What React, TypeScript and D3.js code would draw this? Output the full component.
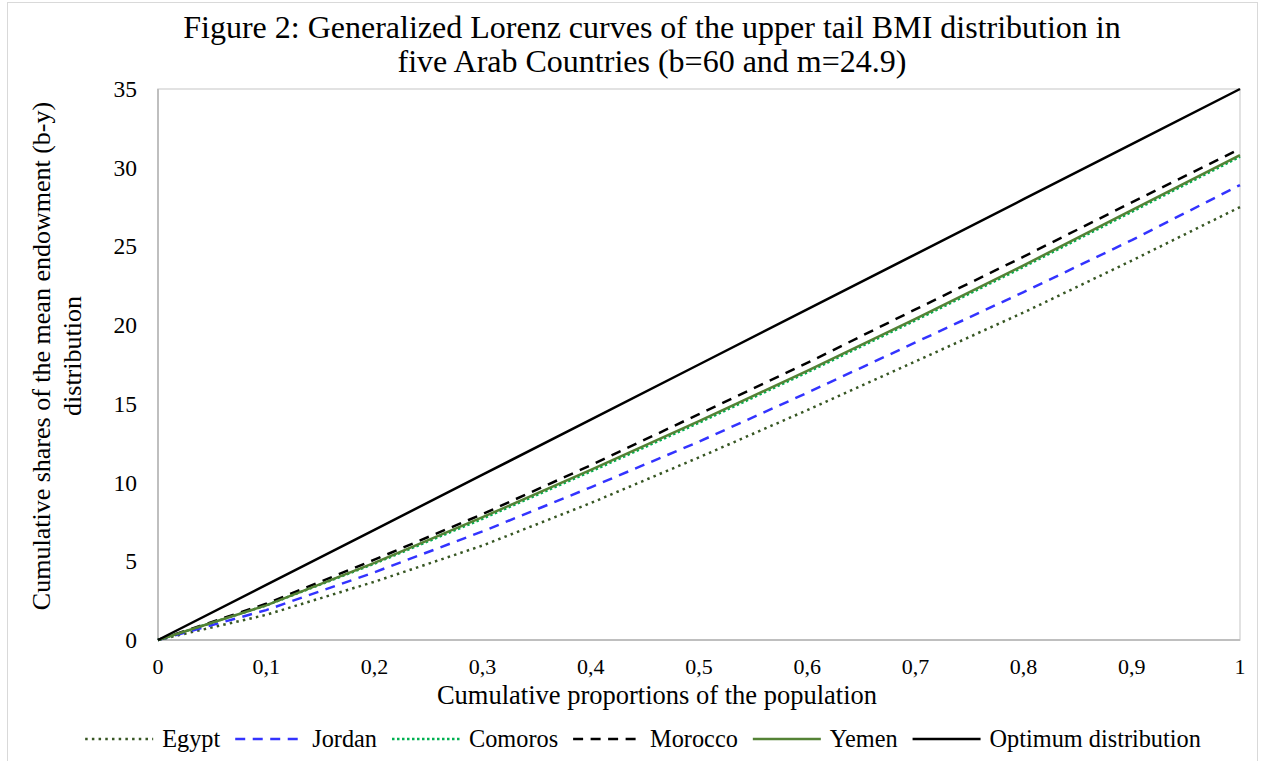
import { useEffect, useRef } from "react";
import * as d3 from "d3";

// population proportions (x) and generalized Lorenz ordinates per country
const proportions = [0, 0.1, 0.2, 0.3, 0.4, 0.5, 0.6, 0.7, 0.8, 0.9, 1];
const egypt = [0, 1.6, 3.7, 6.0, 8.7, 11.6, 14.6, 17.7, 20.8, 24.1, 27.5];
const jordan = [0, 1.9, 4.3, 6.9, 9.7, 12.6, 15.7, 18.9, 22.1, 25.4, 28.9];
const comoros = [0, 2.2, 4.85, 7.7, 10.7, 13.8, 17.0, 20.3, 23.7, 27.2, 30.7];
const morocco = [0, 2.3, 5.1, 8.0, 11.1, 14.35, 17.6, 21.0, 24.35, 27.8, 31.2];
const yemen = [0, 2.2, 4.9, 7.8, 10.8, 13.9, 17.1, 20.4, 23.8, 27.3, 30.8];
const optimum = [0, 3.5, 7, 10.5, 14, 17.5, 21, 24.5, 28, 31.5, 35];

const xTicks = [0, 0.1, 0.2, 0.3, 0.4, 0.5, 0.6, 0.7, 0.8, 0.9, 1];
const yTicks = [0, 5, 10, 15, 20, 25, 30, 35];

const titleLines = [
  "Figure 2: Generalized Lorenz curves of the upper tail BMI distribution in",
  "five Arab Countries (b=60 and m=24.9)",
];
const yTitleLines = ["Cumulative shares of the mean endowment (b-y)", "distribution"];
const xTitle = "Cumulative proportions of the population";

interface Series {
  name: string;
  values: number[];
  color: string;
  dash: string | null;
}

const series: Series[] = [
  { name: "Egypt", values: egypt, color: "#375623", dash: "2.5,4.2" },
  { name: "Jordan", values: jordan, color: "#3333ff", dash: "10,7.5" },
  { name: "Comoros", values: comoros, color: "#00b050", dash: "2.5,2.5" },
  { name: "Morocco", values: morocco, color: "#000000", dash: "10,7.5" },
  { name: "Yemen", values: yemen, color: "#548235", dash: null },
  { name: "Optimum distribution", values: optimum, color: "#000000", dash: null },
];

const FONT = "'Liberation Serif', 'Times New Roman', serif";

export default function App() {
  const svgRef = useRef<SVGSVGElement | null>(null);

  useEffect(() => {
    if (!svgRef.current) return;
    const width = 1262;
    const height = 761;
    const margin = { top: 89, right: 22, bottom: 121, left: 158 };
    const chartWidth = width - margin.left - margin.right;
    const chartHeight = height - margin.top - margin.bottom;

    const svg = d3.select(svgRef.current);
    svg.selectAll("*").remove();

    // outer chart frame (bottom edge runs off the picture)
    svg.append("rect")
      .attr("x", 7.5).attr("y", 2.5)
      .attr("width", 1250).attr("height", 800)
      .attr("fill", "#ffffff")
      .attr("stroke", "#d9d9d9");

    const xScale = d3.scaleLinear().domain([0, 1]).range([0, chartWidth]);
    const yScale = d3.scaleLinear().domain([0, 35]).range([chartHeight, 0]);

    const g = svg.append("g").attr("transform", `translate(${margin.left}, ${margin.top})`);

    // plot area border
    g.append("rect")
      .attr("x", 0).attr("y", 0)
      .attr("width", chartWidth).attr("height", chartHeight)
      .attr("fill", "none")
      .attr("stroke", "#d9d9d9")
      .attr("stroke-width", 1.5);

    // axis lines
    g.append("line")
      .attr("x1", 0).attr("x2", chartWidth)
      .attr("y1", chartHeight).attr("y2", chartHeight)
      .attr("stroke", "#bfbfbf").attr("stroke-width", 2);
    g.append("line")
      .attr("x1", 0).attr("x2", 0)
      .attr("y1", 0).attr("y2", chartHeight)
      .attr("stroke", "#bfbfbf").attr("stroke-width", 2);

    // tick labels
    g.selectAll(".xtick")
      .data(xTicks)
      .enter()
      .append("text")
      .attr("x", d => xScale(d))
      .attr("y", chartHeight + 34)
      .attr("text-anchor", "middle")
      .attr("font-family", FONT)
      .attr("font-size", 22)
      .attr("fill", "#000")
      .text(d => (d === 0 || d === 1 ? String(d) : String(d).replace(".", ",")));

    g.selectAll(".ytick")
      .data(yTicks)
      .enter()
      .append("text")
      .attr("x", -21)
      .attr("y", d => yScale(d) + 8)
      .attr("text-anchor", "end")
      .attr("font-family", FONT)
      .attr("font-size", 23.5)
      .attr("fill", "#000")
      .text(d => String(d));

    // series lines
    const lineGen = d3.line<number>()
      .x((_, i) => xScale(proportions[i]))
      .y(d => yScale(d));

    series.forEach(s => {
      const p = g.append("path")
        .datum(s.values)
        .attr("d", lineGen)
        .attr("fill", "none")
        .attr("stroke", s.color)
        .attr("stroke-width", 2.5);
      if (s.dash) p.attr("stroke-dasharray", s.dash);
    });

    // title
    svg.selectAll(".title")
      .data(titleLines)
      .enter()
      .append("text")
      .attr("x", 652)
      .attr("y", (_, i) => 38 + i * 34)
      .attr("text-anchor", "middle")
      .attr("font-family", FONT)
      .attr("font-size", 32)
      .attr("fill", "#000")
      .text(d => d);

    // x axis title
    svg.append("text")
      .attr("x", 657)
      .attr("y", 704)
      .attr("text-anchor", "middle")
      .attr("font-family", FONT)
      .attr("font-size", 26.5)
      .attr("fill", "#000")
      .text(xTitle);

    // y axis title
    const yt = svg.append("text")
      .attr("transform", `translate(0, 356) rotate(-90)`)
      .attr("text-anchor", "middle")
      .attr("font-family", FONT)
      .attr("font-size", 26)
      .attr("fill", "#000");
    yTitleLines.forEach((line, i) => {
      yt.append("tspan")
        .attr("x", 0)
        .attr("y", 50 + i * 31)
        .text(line);
    });

    // legend, laid out from measured text widths
    const legend = svg.append("g");
    const sampleLen = 68;
    const textGap = 9;
    const itemGap = 15;
    let cursor = 0;
    series.forEach(s => {
      const item = legend.append("g");
      const ln = item.append("line")
        .attr("x1", 0).attr("x2", sampleLen)
        .attr("y1", 0).attr("y2", 0)
        .attr("stroke", s.color)
        .attr("stroke-width", 2.5);
      if (s.dash) ln.attr("stroke-dasharray", s.dash);
      const t = item.append("text")
        .attr("x", sampleLen + textGap)
        .attr("y", 8)
        .attr("font-family", FONT)
        .attr("font-size", 24.3)
        .attr("fill", "#000")
        .text(s.name);
      const w = (t.node() as SVGTextElement).getComputedTextLength();
      item.attr("transform", `translate(${cursor}, 0)`);
      cursor += sampleLen + textGap + w + itemGap;
    });
    const total = cursor - itemGap;
    legend.attr("transform", `translate(${643 - total / 2}, 739)`);
  }, []);

  return (
    <svg
      ref={svgRef}
      width={1262}
      height={761}
      style={{ position: "absolute", left: 0, top: 0, display: "block", background: "#fff" }}
    />
  );
}
